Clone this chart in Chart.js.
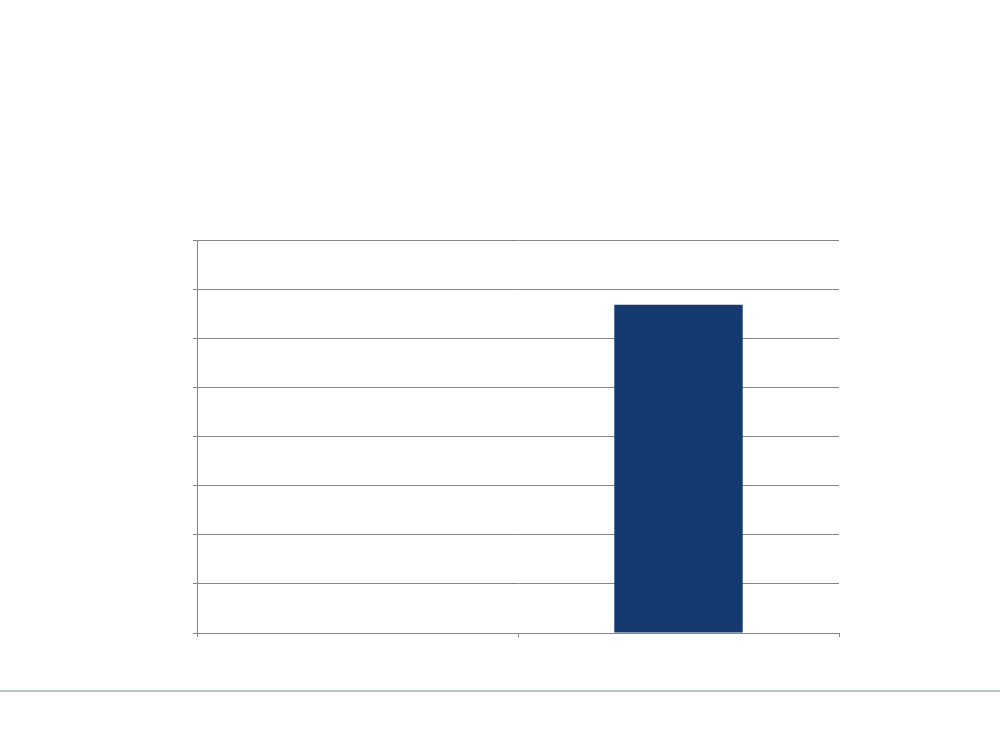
<!DOCTYPE html>
<html>
<head>
<meta charset="utf-8">
<script src="https://cdn.jsdelivr.net/npm/chart.js@4.4.1/dist/chart.umd.min.js"></script>
<style>
  html, body { margin: 0; padding: 0; background: #fff; }
  #wrap { position: relative; width: 1000px; height: 750px; }
  #rule { position: absolute; left: 0; top: 690px; width: 1000px; height: 2px; background: #b7c7ca; }
</style>
</head>
<body>
<div id="wrap">
  <canvas id="chart" width="1000" height="750"></canvas>
  <div id="rule"></div>
</div>
<script>
// --- data ---
const categories = ['', ''];
const values = [null, 6.68];
const yMin = 0;
const yMax = 8;
const yStep = 1;

const GRID = '#868686';
const BAR = '#143a6f';

const ctx = document.getElementById('chart').getContext('2d');
new Chart(ctx, {
  type: 'bar',
  data: {
    labels: categories,
    datasets: [{
      data: values,
      backgroundColor: BAR,
      borderWidth: 0,
      barPercentage: 0.4,
      categoryPercentage: 1,
    }],
  },
  options: {
    responsive: false,
    animation: false,
    devicePixelRatio: 1,
    layout: { padding: { left: 193, top: 240, right: 161, bottom: 113 } },
    plugins: { legend: { display: false }, tooltip: { enabled: false } },
    scales: {
      x: {
        grid: { offset: true, drawOnChartArea: false, drawTicks: true, tickLength: 4, color: GRID },
        border: { color: GRID, width: 1 },
        ticks: { display: false },
        afterFit: (s) => { s.height = 4; },
      },
      y: {
        min: yMin, max: yMax,
        grid: { color: GRID, lineWidth: 1, drawTicks: true, tickLength: 4 },
        border: { color: GRID, width: 1 },
        ticks: { display: false, stepSize: yStep },
        afterFit: (s) => { s.width = 4; },
      },
    },
  },
});
</script>
</body>
</html>
